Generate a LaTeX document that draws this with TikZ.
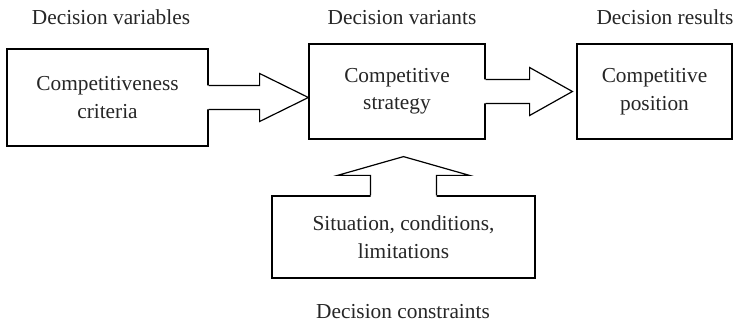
\documentclass[tikz,border=0pt]{standalone}
\usepackage{fontspec}
\setmainfont{Liberation Serif}
\usetikzlibrary{calc}
\begin{document}
\begin{tikzpicture}[x=0.75pt,y=-0.75pt,
  every node/.style={font=\fontsize{16}{20.6}\selectfont, text=black!85},
  box/.style={draw, line width=0.9pt, fill=white, inner sep=0pt, align=center},
  caption/.style={anchor=base},
  outline/.style={draw, line width=0.9pt, line join=miter},
  cover/.style={fill=white}]
\useasboundingbox (0,0) rectangle (733,321);

% decision blocks
\node[box, minimum width=150.75pt, minimum height=72.75pt] (b1) at (107.5,97.5) {Competitiveness\\criteria};
\node[box, minimum width=132pt, minimum height=71.25pt] (b2) at (397,91.5) {Competitive\\strategy};
\node[box, minimum width=116.25pt, minimum height=71.25pt] (b3) at (654.5,91.5) {Competitive\\position};
\node[box, minimum width=197.25pt, minimum height=61.5pt] (b4) at (403.5,237) {Situation, conditions,\\limitations};

% captions
\node[caption] (c1) at (111,25) {Decision variables};
\node[caption] (c2) at (402,25) {Decision variants};
\node[caption] (c3) at (665,25) {Decision results};
\node[caption] (c4) at (403,318) {Decision constraints};

% block arrow: criteria -> strategy
\coordinate (t1) at (b2.west |- b1.east);
\fill[cover] ($(b1.east)+(-2,-12)$) -- ($(b1.east)+(51,-12)$) -- ($(b1.east)+(51,-24)$) -- (t1)
  -- ($(b1.east)+(51,24)$) -- ($(b1.east)+(51,12)$) -- ($(b1.east)+(-2,12)$) -- cycle;
\draw[outline] ($(b1.east)+(0,-12)$) -- ($(b1.east)+(51,-12)$) -- ($(b1.east)+(51,-24)$) -- (t1)
  -- ($(b1.east)+(51,24)$) -- ($(b1.east)+(51,12)$) -- ($(b1.east)+(0,12)$);

% block arrow: strategy -> position
\coordinate (t2) at ($(b3.west |- b2.east)+(-4,0)$);
\fill[cover] ($(b2.east)+(-2,-12)$) -- ($(b2.east)+(44,-12)$) -- ($(b2.east)+(44,-24)$) -- (t2)
  -- ($(b2.east)+(44,24)$) -- ($(b2.east)+(44,12)$) -- ($(b2.east)+(-2,12)$) -- cycle;
\draw[outline] ($(b2.east)+(0,-12)$) -- ($(b2.east)+(44,-12)$) -- ($(b2.east)+(44,-24)$) -- (t2)
  -- ($(b2.east)+(44,24)$) -- ($(b2.east)+(44,12)$) -- ($(b2.east)+(0,12)$);

% block arrow: constraints -> strategy
\coordinate (t3) at ($(b4.north |- b2.south)+(0,17)$);
\fill[cover] ($(b4.north)+(-33,2)$) -- ($(b4.north)+(-33,-20)$) -- ($(b4.north)+(-66,-20)$) -- (t3)
  -- ($(b4.north)+(66,-20)$) -- ($(b4.north)+(33,-20)$) -- ($(b4.north)+(33,2)$) -- cycle;
\draw[outline] ($(b4.north)+(-33,0)$) -- ($(b4.north)+(-33,-20)$) -- ($(b4.north)+(-66,-20)$) -- (t3)
  -- ($(b4.north)+(66,-20)$) -- ($(b4.north)+(33,-20)$) -- ($(b4.north)+(33,0)$);
\end{tikzpicture}
\end{document}
